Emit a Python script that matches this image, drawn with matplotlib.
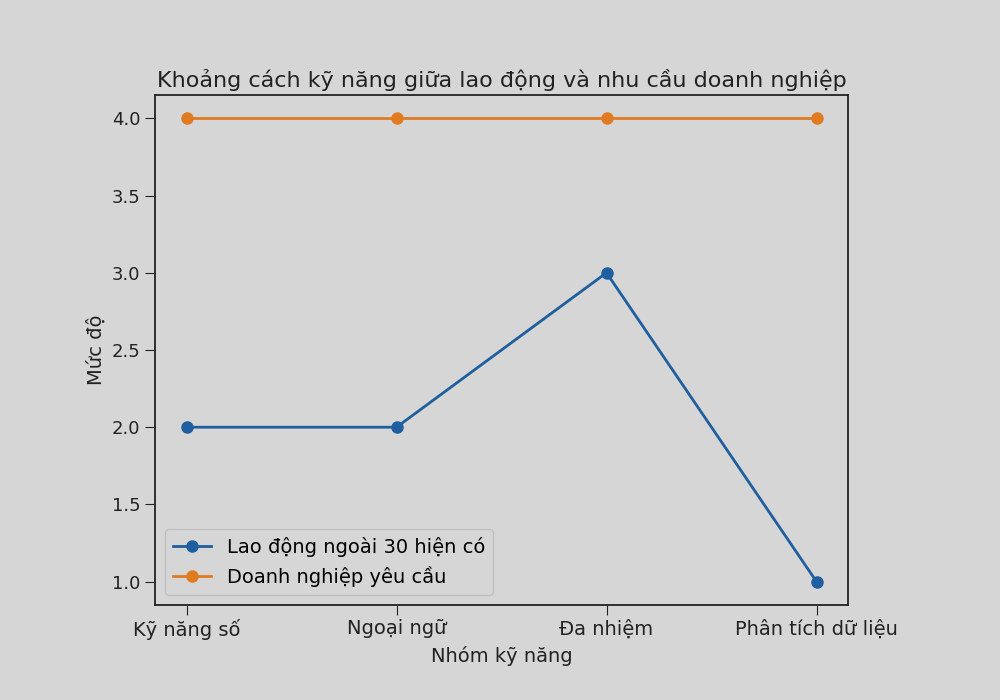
import matplotlib
matplotlib.use("Agg")
import matplotlib.pyplot as plt

categories = ["Kỹ năng số", "Ngoại ngữ", "Đa nhiệm", "Phân tích dữ liệu"]
lao_dong = [2, 2, 3, 1]
doanh_nghiep = [4, 4, 4, 4]

plt.rcParams['font.family'] = ['DejaVu Sans']
plt.rcParams['font.size'] = 14

bg = "#d6d6d6"
fig = plt.figure(figsize=(10, 7), dpi=100, facecolor=bg)
ax = fig.add_axes([0.155, 0.136, 0.693, 0.728], facecolor=bg)

ax.plot(categories, lao_dong, marker='o', markersize=8, linewidth=2,
        color='#1f5f9f', label="Lao động ngoài 30 hiện có")
ax.plot(categories, doanh_nghiep, marker='o', markersize=8, linewidth=2,
        color='#e07b22', label="Doanh nghiệp yêu cầu")

ax.set_title("Khoảng cách kỹ năng giữa lao động và nhu cầu doanh nghiệp", fontsize=16, color='#222222')
ax.set_xlabel("Nhóm kỹ năng", fontsize=14, color='#222222')
ax.set_ylabel("Mức độ", fontsize=14, color='#222222')
ax.tick_params(axis='x', labelsize=14, colors='#222222', length=7)
ax.tick_params(axis='y', labelsize=13, colors='#222222', length=7)
for s in ax.spines.values():
    s.set_color('#222222')
    s.set_linewidth(1.3)

leg = ax.legend(loc='lower left', fontsize=14, facecolor=bg, edgecolor='#bbbbbb')

fig.savefig("out.png", dpi=100, facecolor=bg)
